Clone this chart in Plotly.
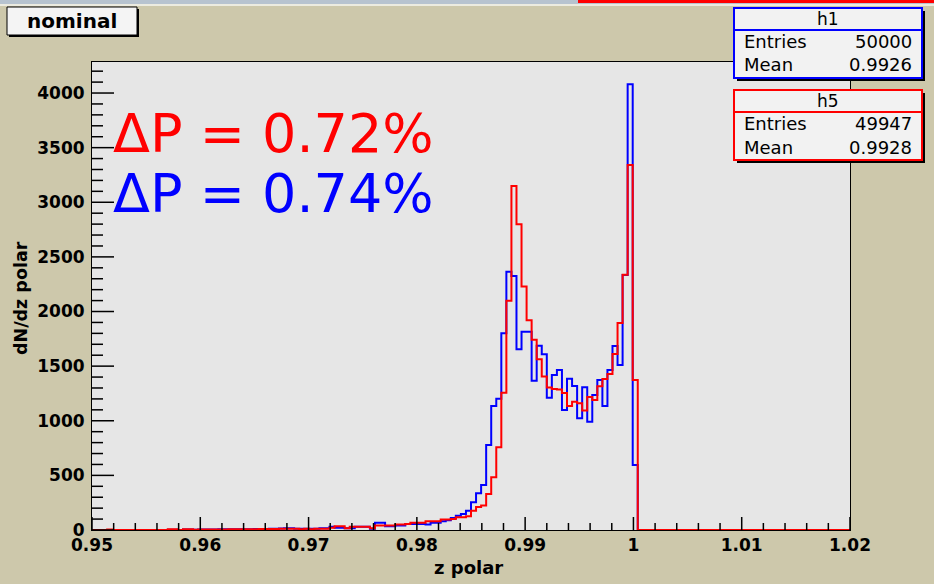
import numpy as np
import plotly.graph_objects as go

# Histogram binning: 150 bins on [0.95, 1.02]
z_min, z_max, n_bins = 0.95, 1.02, 150

# h1 (blue) bin contents, bins 0..107 (remaining bins are empty)
h1_counts = [
    0, 0, 0, 0, 0, 0, 0, 0, 0, 0,
    0, 0, 0, 0, 0, 3, 3, 0, 5, 5,
    3, 4, 4, 5, 5, 6, 8, 6, 6, 7,
    8, 8, 9, 10, 10, 11, 12, 14, 15, 15,
    12, 11, 11, 11, 11, 17, 17, 29, 20, 20,
    17, 17, 29, 29, 29, 11, 66, 66, 35, 35,
    41, 41, 56, 56, 56, 56, 50, 66, 66, 80,
    90, 110, 130, 146, 177, 253, 336, 412, 778, 1135,
    1202, 1800, 2365, 2325, 1654, 1815, 1815, 1367, 1687, 1608,
    1211, 1419, 1465, 1098, 1385, 1318, 1022, 1306, 992, 1236,
    1373, 1135, 1465, 1684, 1510, 2334, 4080, 595,
]

# h5 (red) bin contents, bins 0..107 (remaining bins are empty)
h5_counts = [
    0, 0, 0, 5, 0, 0, 0, 0, 0, 0,
    0, 0, 0, 0, 0, 6, 6, 0, 8, 8,
    3, 4, 4, 5, 5, 5, 5, 6, 6, 7,
    7, 8, 8, 9, 9, 10, 10, 11, 11, 11,
    11, 7, 11, 7, 11, 11, 11, 20, 35, 35,
    17, 29, 29, 29, 29, 17, 41, 41, 41, 41,
    50, 50, 56, 66, 66, 66, 81, 81, 81, 96,
    96, 100, 117, 116, 125, 177, 210, 225, 330, 482,
    757, 1257, 2099, 3149, 2798, 2230, 1920, 1742, 1563, 1406,
    1305, 1290, 1285, 1255, 1135, 1175, 1160, 1095, 1217, 1190,
    1315, 1383, 1427, 1610, 1895, 2337, 3341, 1373,
]

x_tick_vals = [0.95, 0.96, 0.97, 0.98, 0.99, 1.00, 1.01, 1.02]
x_tick_text = ["0.95", "0.96", "0.97", "0.98", "0.99", "1", "1.01", "1.02"]
y_tick_vals = [0, 500, 1000, 1500, 2000, 2500, 3000, 3500, 4000]
y_tick_text = [str(v) for v in y_tick_vals]
x_minor_step = 0.002
y_minor_step = 100

stats = [
    ("h1", "50000", "0.9926", "#0000FF"),
    ("h5", "49947", "0.9928", "#FF0000"),
]
delta_p = [("ΔP = 0.72%", "#FF0000"), ("ΔP = 0.74%", "#0000FF")]

W, H = 934, 584
L, R, T, B = 92, 84, 62, 54
PW, PH = W - L - R, H - T - B


def px(x):
    return (x - L) / PW


def py(y):
    return 1 - (y - T) / PH


def full(counts):
    c = np.zeros(n_bins)
    c[: len(counts)] = counts
    return c


edges = np.linspace(z_min, z_max, n_bins + 1)


def step_xy(counts):
    c = full(counts)
    return edges, np.append(c, c[-1])


ymax = 1.05 * max(max(h1_counts), max(h5_counts))

fig = go.Figure()
for counts, color in [(h1_counts, "#0000FF"), (h5_counts, "#FF0000")]:
    xs, ys = step_xy(counts)
    fig.add_trace(go.Scatter(
        x=xs, y=ys, mode="lines", line=dict(color=color, width=2, shape="hv"),
        hoverinfo="skip", showlegend=False,
    ))

# tick marks inside the frame (major + minor), lengths given in pixels
x_per_px = (z_max - z_min) / PW
y_per_px = ymax / PH
tx, ty = [], []
for v in np.arange(z_min, z_max + 1e-9, x_minor_step):
    major = any(abs(v - t) < 1e-9 for t in x_tick_vals)
    ln = 13 if major else 7
    tx += [float(v), float(v), None]
    ty += [0.0, ln * y_per_px, None]
for v in np.arange(0, ymax, y_minor_step):
    major = any(abs(v - t) < 1e-9 for t in y_tick_vals)
    ln = 22 if major else 11
    tx += [z_min, z_min + ln * x_per_px, None]
    ty += [float(v), float(v), None]
fig.add_trace(go.Scatter(
    x=tx, y=ty, mode="lines", connectgaps=False,
    line=dict(color="black", width=1.5),
    hoverinfo="skip", showlegend=False,
))

tick_font = dict(family="DejaVu Sans", size=17, color="black", weight="bold")

fig.update_layout(
    width=W, height=H,
    margin=dict(l=L, r=R, t=T, b=B, autoexpand=False),
    paper_bgcolor="#CDC8AB",
    plot_bgcolor="#E6E6E6",
    showlegend=False,
    xaxis=dict(
        range=[z_min, z_max], tickmode="array", tickvals=x_tick_vals,
        ticktext=x_tick_text, ticks="", showgrid=False, zeroline=False,
        showline=True, linecolor="black", linewidth=1, mirror=True,
        tickfont=tick_font,
    ),
    yaxis=dict(
        range=[0, ymax], tickmode="array", tickvals=y_tick_vals,
        ticktext=y_tick_text, ticks="", showgrid=False, zeroline=False,
        showline=True, linecolor="black", linewidth=1, mirror=True,
        tickfont=tick_font, ticklabelstandoff=3,
    ),
)

shapes = []
annotations = []

# window strip along the top edge
shapes.append(dict(type="rect", xref="paper", yref="paper", x0=px(0), x1=px(W),
                   y0=py(0), y1=py(4), fillcolor="#B7C3CF", line=dict(width=0),
                   layer="above"))
shapes.append(dict(type="rect", xref="paper", yref="paper", x0=px(0), x1=px(W),
                   y0=py(4), y1=py(6), fillcolor="#ECEBE0", line=dict(width=0),
                   layer="above"))
shapes.append(dict(type="rect", xref="paper", yref="paper", x0=px(578), x1=px(W),
                   y0=py(0), y1=py(3), fillcolor="#FF0000", line=dict(width=0),
                   layer="above"))


def box(x0, y0, x1, y1, border, fill="#F2F2F2", shadow=3, lw=2):
    shapes.append(dict(type="rect", xref="paper", yref="paper",
                       x0=px(x0 + shadow), x1=px(x1 + shadow),
                       y0=py(y0 + shadow), y1=py(y1 + shadow),
                       fillcolor="black", line=dict(width=0), layer="above"))
    shapes.append(dict(type="rect", xref="paper", yref="paper",
                       x0=px(x0), x1=px(x1), y0=py(y0), y1=py(y1),
                       fillcolor=fill, line=dict(color=border, width=lw),
                       layer="above"))


def text(x, y, s, size, color="black", xanchor="center", bold=False,
         family="DejaVu Sans", angle=0):
    annotations.append(dict(
        xref="paper", yref="paper", x=px(x), y=py(y), text=s, showarrow=False,
        xanchor=xanchor, yanchor="middle", textangle=angle,
        font=dict(family=family, size=size, color=color,
                  weight="bold" if bold else "normal"),
    ))


# title box
box(7, 7, 137, 35, "black", fill="#F4F4F4", shadow=2, lw=1)
text(72, 21, "nominal", 20, bold=True)

# statistics boxes
for i, (name, entries, mean, color) in enumerate(stats):
    top = 8 + i * 82
    box(734, top, 922, top + 70, color, shadow=3, lw=2)
    shapes.append(dict(type="line", xref="paper", yref="paper",
                       x0=px(734), x1=px(922), y0=py(top + 22), y1=py(top + 22),
                       line=dict(color=color, width=2), layer="above"))
    text(828, top + 11, name, 17)
    text(742, top + 34, "Entries", 18, xanchor="left")
    text(914, top + 34, entries, 18, xanchor="right")
    text(742, top + 57, "Mean", 18, xanchor="left")
    text(914, top + 57, mean, 18, xanchor="right")

# polarisation differences
for i, (s, color) in enumerate(delta_p):
    text(111, 133 + i * 60, s, 54, color=color, xanchor="left")

# axis titles
text(468, 567, "z polar", 18, bold=True)
text(21, 298, "dN/dz polar", 17.5, bold=True, angle=-90)

fig.update_layout(shapes=shapes, annotations=annotations)
fig.write_html("out.html")
